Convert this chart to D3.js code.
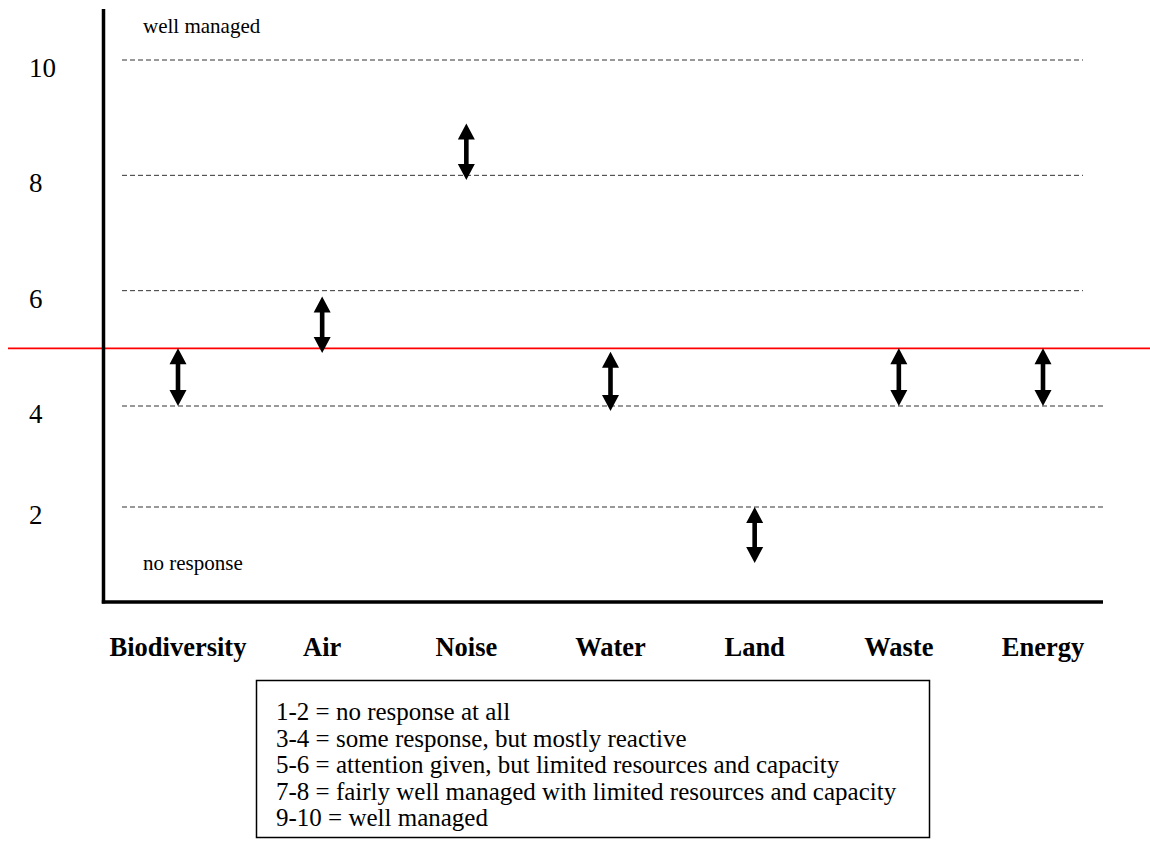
<!DOCTYPE html>
<html>
<head>
<meta charset="utf-8">
<script src="https://cdn.jsdelivr.net/npm/d3@7/dist/d3.min.js"></script>
<style>
  html, body { margin: 0; padding: 0; background: #fff; }
  svg { display: block; font-family: "Liberation Serif", "Times New Roman", serif; }
</style>
</head>
<body>
<svg id="chart" width="1150" height="842"></svg>
<script>
// ---- data ----
const categories = ["Biodiversity", "Air", "Noise", "Water", "Land", "Waste", "Energy"];
const rangeLow  = [4, 4.92, 7.92, 3.9, 1, 4, 4];
const rangeHigh = [5, 5.9, 8.9, 4.94, 2, 5, 5];
const gridValues = [10, 8, 6, 4, 2];
const tickLabels = ["10", "8", "6", "4", "2"];
const thresholdValue = 5;
const topNote = "well managed";
const bottomNote = "no response";
const legendLines = [
  "1-2 = no response at all",
  "3-4 = some response, but mostly reactive",
  "5-6 = attention given, but limited resources and capacity",
  "7-8 = fairly well managed with limited resources and capacity",
  "9-10 = well managed"
];

// ---- drawing ----
const svg = d3.select("#chart");

const y = d3.scaleLinear().domain([1, 2, 4, 10]).range([563, 507, 406, 60]);
const x = d3.scalePoint().domain(categories).range([178, 1043]);

// dashed reference lines
svg.append("g").selectAll("line").data(gridValues).join("line")
  .attr("x1", 122)
  .attr("x2", d => d >= 6 ? 1083 : 1103)
  .attr("y1", d => y(d)).attr("y2", d => y(d))
  .attr("stroke", "#333").attr("stroke-width", 1)
  .attr("stroke-dasharray", "5,3");

// tick labels (left)
svg.append("g").selectAll("text").data(gridValues).join("text")
  .attr("x", 29)
  .attr("y", d => y(d) + 8)
  .attr("dy", "0.33em")
  .attr("font-size", 27)
  .attr("fill", "#000")
  .text((d, i) => tickLabels[i]);

// threshold red line
svg.append("line")
  .attr("x1", 8).attr("x2", 1150)
  .attr("y1", y(thresholdValue)).attr("y2", y(thresholdValue))
  .attr("stroke", "#ff0000").attr("stroke-width", 1.6);

// axes
svg.append("line")
  .attr("x1", 103.5).attr("x2", 103.5).attr("y1", 9).attr("y2", 603.5)
  .attr("stroke", "#000").attr("stroke-width", 3.5);
svg.append("line")
  .attr("x1", 101.8).attr("x2", 1103).attr("y1", 602).attr("y2", 602)
  .attr("stroke", "#000").attr("stroke-width", 3.5);

// notes
svg.append("text").attr("x", 143).attr("y", 33).attr("font-size", 21).text(topNote);
svg.append("text").attr("x", 143).attr("y", 570).attr("font-size", 21).text(bottomNote);

// double-headed arrows
const hw = 8.5, hl = 16, sw = 2.3;
function arrowPath(cx, yTop, yBot) {
  return [
    "M", cx, yTop,
    "L", cx + hw, yTop + hl,
    "L", cx + sw, yTop + hl,
    "L", cx + sw, yBot - hl,
    "L", cx + hw, yBot - hl,
    "L", cx, yBot,
    "L", cx - hw, yBot - hl,
    "L", cx - sw, yBot - hl,
    "L", cx - sw, yTop + hl,
    "L", cx - hw, yTop + hl,
    "Z"
  ].join(" ");
}
svg.append("g").selectAll("path").data(categories).join("path")
  .attr("d", (c, i) => arrowPath(x(c), y(rangeHigh[i]), y(rangeLow[i])))
  .attr("fill", "#000");

// category labels
svg.append("g").selectAll("text").data(categories).join("text")
  .attr("x", d => x(d))
  .attr("y", 656)
  .attr("text-anchor", "middle")
  .attr("font-size", 26.5)
  .attr("font-weight", "bold")
  .text(d => d);

// legend box
const lg = svg.append("g");
lg.append("rect")
  .attr("x", 256.5).attr("y", 680.5).attr("width", 673).attr("height", 157)
  .attr("fill", "none").attr("stroke", "#000").attr("stroke-width", 1.5);
lg.selectAll("text").data(legendLines).join("text")
  .attr("x", 276)
  .attr("y", (d, i) => 720 + i * 26.5)
  .attr("font-size", 25)
  .text(d => d);
</script>
</body>
</html>
